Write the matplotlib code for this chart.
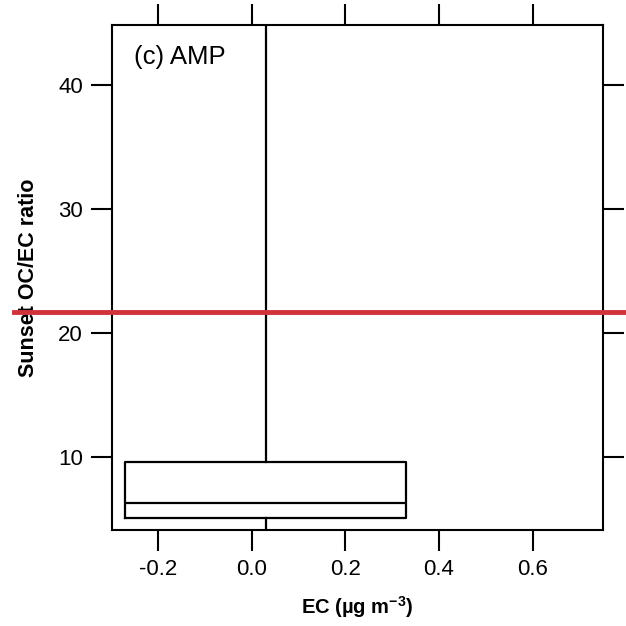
"""Box plot of Sunset OC/EC ratio against EC, panel (c) AMP."""

import matplotlib

matplotlib.use("Agg")
from matplotlib import pyplot as plt

plt.rcParams["font.family"] = ["Liberation Sans", "DejaVu Sans"]
plt.rcParams["mathtext.fontset"] = "custom"
plt.rcParams["mathtext.rm"] = "Liberation Sans"
plt.rcParams["mathtext.bf"] = "Liberation Sans:bold"

# box statistics
box_position = [0.03]
box_width = 0.6
q1 = [5.08]
median = [6.29]
q3 = [9.62]
whisker_low = [2.0]
whisker_high = [60.0]
reference_ratio = 21.72

x_ticks = [-0.2, 0.0, 0.2, 0.4, 0.6]
y_ticks = [10, 20, 30, 40]


def main():
    fig = plt.figure(figsize=(6.26, 6.26), dpi=100)
    ax = fig.add_axes([0.179, 0.1534, 0.784, 0.8066])

    stats = [
        {
            "med": m,
            "q1": a,
            "q3": b,
            "whislo": lo,
            "whishi": hi,
            "fliers": [],
        }
        for m, a, b, lo, hi in zip(median, q1, q3, whisker_low, whisker_high)
    ]
    line = dict(color="black", linewidth=1.6)
    ax.bxp(
        stats,
        positions=box_position,
        widths=box_width,
        showcaps=False,
        boxprops=line,
        medianprops=line,
        whiskerprops=line,
        manage_ticks=False,
    )

    ax.axhline(reference_ratio, xmin=-0.2, xmax=1.05, color="#d0343a",
               linewidth=3.5, clip_on=False, zorder=5)

    ax.set_xlim(-0.298, 0.75)
    ax.set_ylim(4.11, 44.84)
    ax.set_xticks(x_ticks)
    ax.set_xticklabels([f"{v:.1f}" for v in x_ticks])
    ax.set_yticks(y_ticks)

    ax.tick_params(direction="out", length=15, width=1.5, labelsize=16,
                   top=True, right=True, pad=6)
    for spine in ax.spines.values():
        spine.set_linewidth(1.5)

    ax.set_xlabel(r"EC (µg m$\mathbf{^{-3}}$)", fontsize=14.5,
                  fontweight="bold", labelpad=10)
    ax.set_ylabel("Sunset OC/EC ratio", fontsize=15.5, fontweight="bold",
                  labelpad=14)
    ax.text(0.045, 0.96, "(c) AMP", transform=ax.transAxes, fontsize=18.5,
            va="top", ha="left")

    fig.savefig("out.png", dpi=100)


if __name__ == "__main__":
    main()
